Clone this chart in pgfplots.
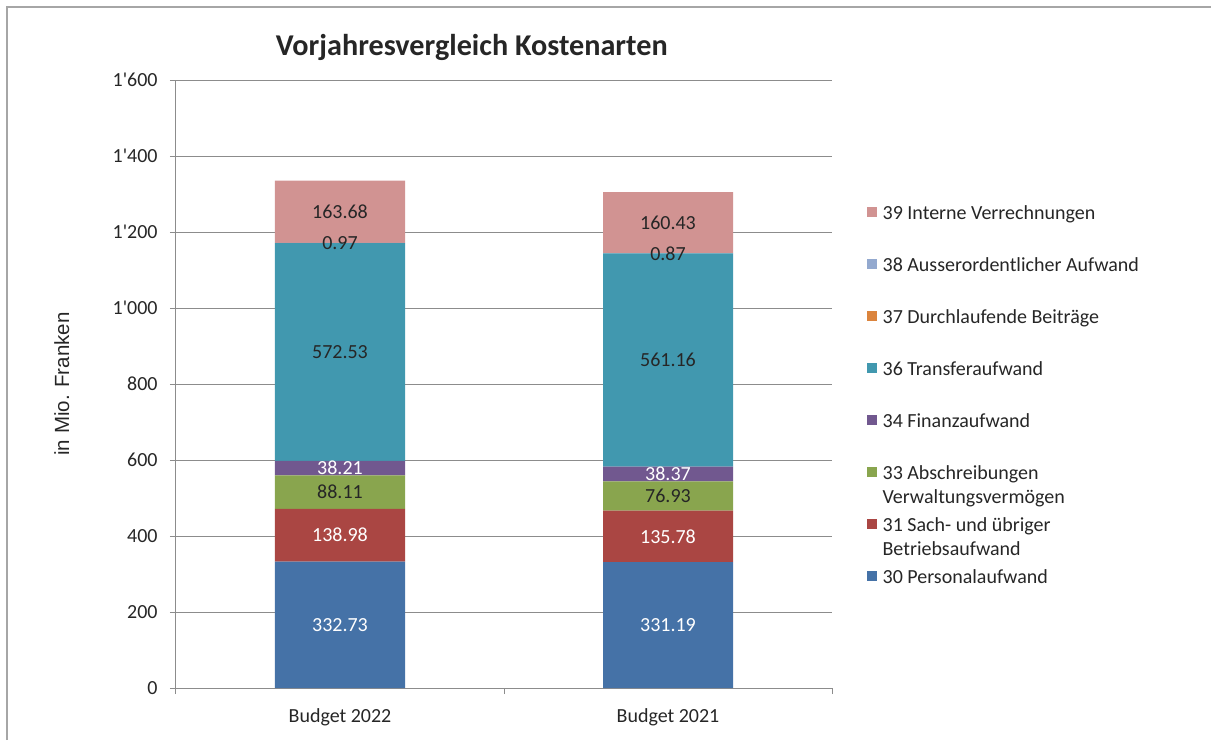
\documentclass[border=0pt]{standalone}
\usepackage{pgfplots}
\pgfplotsset{compat=1.18}
\usepackage{fontspec}
\setmainfont{Carlito}
\newfontfamily\arialfont{Liberation Sans}

\definecolor{c30}{HTML}{4572A7}
\definecolor{c31}{HTML}{AA4643}
\definecolor{c33}{HTML}{89A54E}
\definecolor{c34}{HTML}{71588F}
\definecolor{c36}{HTML}{4198AF}
\definecolor{c37}{HTML}{DB843D}
\definecolor{c38}{HTML}{93A9CF}
\definecolor{c39}{HTML}{D19392}
\definecolor{txt}{HTML}{262626}
\definecolor{axc}{HTML}{8C8C8C}
\definecolor{framec}{HTML}{A6A6A6}

\begin{document}
\begin{tikzpicture}
\useasboundingbox (-88pt,-26pt) rectangle (517.5pt,344pt);
\draw[framec, line width=0.9pt] (-84.5pt,-26pt) -- (-84.5pt,340.5pt) -- (517.5pt,340.5pt);
\begin{axis}[
  at={(0,0)}, anchor=south west,
  width=328pt, height=304pt, scale only axis,
  ybar stacked, bar width=65pt,
  xmin=-0.5, xmax=1.5, ymin=0, ymax=1600,
  ytick={0,200,...,1600},
  xtick={0,1}, xticklabels={Budget 2022,Budget 2021},
  minor xtick={-0.5,0.5,1.5},
  axis lines*=left,
  axis line style={draw=axc, line width=0.5pt},
  ymajorgrids, grid style={draw=axc, line width=0.5pt},
  tick align=outside,
  major tick length=3pt, minor tick length=3pt,
  every tick/.style={draw=axc, line width=0.5pt},
  every major x tick/.append style={draw=none},
  /pgf/number format/1000 sep={\textquotesingle},
  /pgf/number format/assume math mode=true,
  tick label style={font=\fontsize{10}{12}\selectfont, text=txt},
  yticklabel style={anchor=east, inner sep=0pt, xshift=-6pt},
  xticklabel style={anchor=center, inner sep=0pt, yshift=-11.5pt},
  title={Vorjahresvergleich Kostenarten},
  every axis title/.style={at={(axis description cs:0.451,1.054)}, anchor=center,
    font=\bfseries\fontsize{15.1}{18}\selectfont, text=txt},
  ylabel={in Mio. Franken},
  every axis y label/.style={at={(axis description cs:-0.174,0.5)}, rotate=90,
    anchor=center, font=\arialfont\fontsize{10.25}{12}\selectfont, text=txt},
  legend style={at={(axis description cs:1.043,0.801)}, anchor=north west,
    draw=none, fill=none, font=\fontsize{10}{12}\selectfont, text=txt,
    row sep=19pt, column sep=3pt,
    nodes={text height=7pt, text depth=0pt, inner sep=0pt}},
  legend cell align=left,
  legend image code/.code={\fill[#1] (0pt,-2.5pt) rectangle (5pt,2.5pt);},
  reverse legend,
  visualization depends on=rawy\as\rawy,
  nodes near coords align={center},
  every node near coord/.append style={font=\fontsize{10}{12}\selectfont, anchor=center},
]
\addplot+[fill=c30, draw=none, nodes near coords={\pgfmathprintnumber[fixed,fixed zerofill,precision=2]{\rawy}},
  every node near coord/.append style={text=white}]
  coordinates {(0,332.73) (1,331.19)};
\addlegendentry{30 Personalaufwand}
\addplot+[fill=c31, draw=none, nodes near coords={\pgfmathprintnumber[fixed,fixed zerofill,precision=2]{\rawy}},
  every node near coord/.append style={text=white}]
  coordinates {(0,138.98) (1,135.78)};
\addlegendentry{\parbox[t]{150pt}{31 Sach- und übriger\\Betriebsaufwand}}
\addplot+[fill=c33, draw=none, nodes near coords={\pgfmathprintnumber[fixed,fixed zerofill,precision=2]{\rawy}},
  every node near coord/.append style={text=txt}]
  coordinates {(0,88.11) (1,76.93)};
\addlegendentry{\parbox[t]{150pt}{33 Abschreibungen\\Verwaltungsvermögen}}
\addplot+[fill=c34, draw=none, nodes near coords={\pgfmathprintnumber[fixed,fixed zerofill,precision=2]{\rawy}},
  every node near coord/.append style={text=white}]
  coordinates {(0,38.21) (1,38.37)};
\addlegendentry{34 Finanzaufwand}
\addplot+[fill=c36, draw=none, nodes near coords={\pgfmathprintnumber[fixed,fixed zerofill,precision=2]{\rawy}},
  every node near coord/.append style={text=txt}]
  coordinates {(0,572.53) (1,561.16)};
\addlegendentry{36 Transferaufwand}
\addplot+[fill=c37, draw=none]
  coordinates {(0,0) (1,0)};
\addlegendentry{37 Durchlaufende Beiträge}
\addplot+[fill=c38, draw=none, nodes near coords={\pgfmathprintnumber[fixed,fixed zerofill,precision=2]{\rawy}},
  every node near coord/.append style={text=txt}]
  coordinates {(0,0.97) (1,0.87)};
\addlegendentry{38 Ausserordentlicher Aufwand}
\addplot+[fill=c39, draw=none, nodes near coords={\pgfmathprintnumber[fixed,fixed zerofill,precision=2]{\rawy}},
  every node near coord/.append style={text=txt}]
  coordinates {(0,163.68) (1,160.43)};
\addlegendentry{39 Interne Verrechnungen}
\end{axis}
\end{tikzpicture}
\end{document}
